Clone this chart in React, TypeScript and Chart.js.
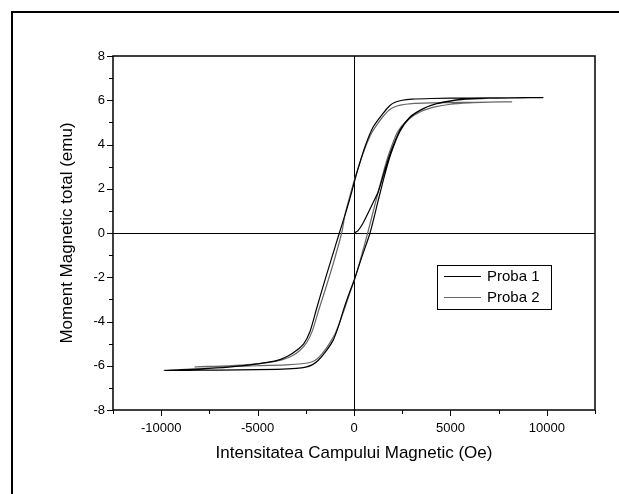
import React, { useEffect, useRef } from 'react';
import { Chart, registerables } from 'chart.js';

Chart.register(...registerables);

// ---- data ----
const seriesNames = ['Proba 1', 'Proba 2'];
const seriesColors = ['#000000', '#666666'];

const xTickValues = [-10000, -5000, 0, 5000, 10000];
const xMinorTickValues = [-12500, -7500, -2500, 2500, 7500, 12500];
const yTickValues = [-8, -6, -4, -2, 0, 2, 4, 6, 8];
const yMinorTickValues = [-7, -5, -3, -1, 1, 3, 5, 7];

const xTitle = 'Intensitatea Campului Magnetic (Oe)';
const yTitle = 'Moment Magnetic total (emu)';

// Proba 1: virgin curve -> upper branch -> descending branch -> ascending branch
const proba1Field = [
  0, 200, 450, 700, 950, 1250, 1600, 1900, 2386, 2905, 3595, 4289, 5000, 5670, 7000, 8500, 9800,
  8000, 6000, 4000, 3000, 2500, 2100, 1850, 1500, 1000, 570, 140, -120, -400, -760, -1200, -1600,
  -1935, -2282, -2600, -2972, -3400, -3838, -4500, -5394, -6500, -8000, -9850,
  -8000, -6000, -4000, -3000, -2500, -2150, -1850, -1500, -1072, -800, -554, -300, 0, 400, 830,
  1250, 1600, 1900, 2386, 2905, 3595, 4289, 5000, 5670, 7000, 8500, 9800,
];
const proba1Moment = [
  0, 0.1, 0.42, 0.85, 1.3, 1.85, 2.85, 3.65, 4.65, 5.25, 5.63, 5.85, 5.97, 6.05, 6.09, 6.11, 6.12,
  6.11, 6.1, 6.08, 6.05, 6.0, 5.9, 5.75, 5.4, 4.8, 3.9, 2.7, 1.85, 1.0, 0, -1.25, -2.4,
  -3.4, -4.45, -5.0, -5.3, -5.55, -5.72, -5.85, -5.96, -6.06, -6.14, -6.21,
  -6.2, -6.19, -6.16, -6.12, -6.06, -5.95, -5.75, -5.4, -4.83, -4.2, -3.5, -2.85, -2.15, -1.1, 0,
  1.45, 2.65, 3.55, 4.6, 5.22, 5.62, 5.84, 5.96, 6.04, 6.09, 6.11, 6.12,
];

// Proba 2: descending branch -> ascending branch
const proba2Field = [
  8200, 7000, 5500, 4000, 3000, 2400, 2000, 1750, 1400, 900, 470, 40, -220, -450, -640, -1050,
  -1450, -1800, -2150, -2450, -2800, -3200, -3700, -4400, -5300, -6500, -8250,
  -6500, -5000, -3500, -2700, -2200, -1900, -1650, -1350, -950, -500, -250, 50, 350, 710, 1120,
  1480, 1780, 2250, 2800, 3500, 4200, 5000, 6000, 7000, 8200,
];
const proba2Moment = [
  5.93, 5.92, 5.9, 5.88, 5.85, 5.78, 5.66, 5.5, 5.15, 4.5, 3.6, 2.45, 1.65, 0.9, 0, -1.3,
  -2.45, -3.4, -4.4, -4.95, -5.3, -5.55, -5.72, -5.85, -5.94, -6.0, -6.05,
  -6.03, -6.0, -5.96, -5.91, -5.83, -5.68, -5.45, -5.1, -4.5, -3.45, -2.8, -2.05, -1.15, 0, 1.4,
  2.6, 3.5, 4.55, 5.12, 5.5, 5.7, 5.82, 5.88, 5.91, 5.93,
];

const FONT = "'Liberation Sans', Arial, sans-serif";

const decorPlugin = {
  id: 'decor',
  beforeDatasetsDraw(chart: any) {
    const { ctx, chartArea: a, scales } = chart;
    const x0 = Math.round(scales.x.getPixelForValue(0)) + 0.5;
    const y0 = Math.round(scales.y.getPixelForValue(0)) + 0.5;
    ctx.save();
    ctx.strokeStyle = '#000';
    ctx.lineWidth = 1;
    ctx.beginPath();
    ctx.moveTo(a.left, y0);
    ctx.lineTo(a.right, y0);
    ctx.moveTo(x0, a.top);
    ctx.lineTo(x0, a.bottom);
    ctx.stroke();
    ctx.restore();
  },
  afterDraw(chart: any) {
    const { ctx, chartArea: a, scales, width, height } = chart;
    ctx.save();
    // outer page border (top & left)
    ctx.fillStyle = '#000';
    ctx.fillRect(11, 11, width - 11, 2);
    ctx.fillRect(11, 11, 2, height - 11);
    // plot frame
    ctx.strokeStyle = '#000';
    ctx.lineWidth = 1.5;
    ctx.strokeRect(a.left, a.top, a.right - a.left, a.bottom - a.top);
    // tick marks
    ctx.lineWidth = 1;
    ctx.beginPath();
    xTickValues.forEach((v) => {
      const px = Math.round(scales.x.getPixelForValue(v)) + 0.5;
      ctx.moveTo(px, a.bottom);
      ctx.lineTo(px, a.bottom + 6);
    });
    xMinorTickValues.forEach((v) => {
      const px = Math.round(scales.x.getPixelForValue(v)) + 0.5;
      ctx.moveTo(px, a.bottom);
      ctx.lineTo(px, a.bottom + 4);
    });
    yTickValues.forEach((v) => {
      const py = Math.round(scales.y.getPixelForValue(v)) + 0.5;
      ctx.moveTo(a.left, py);
      ctx.lineTo(a.left - 6, py);
    });
    yMinorTickValues.forEach((v) => {
      const py = Math.round(scales.y.getPixelForValue(v)) + 0.5;
      ctx.moveTo(a.left, py);
      ctx.lineTo(a.left - 4, py);
    });
    ctx.stroke();
    // legend
    const lx = 437.5, ly = 265.5, lw = 114, lh = 44;
    ctx.lineWidth = 1;
    ctx.strokeStyle = '#000';
    ctx.strokeRect(lx, ly, lw, lh);
    ctx.font = `15px ${FONT}`;
    ctx.textBaseline = 'middle';
    ctx.textAlign = 'left';
    seriesNames.forEach((name, i) => {
      const yy = 276.5 + i * 21;
      ctx.strokeStyle = seriesColors[i];
      ctx.beginPath();
      ctx.moveTo(444, yy);
      ctx.lineTo(481, yy);
      ctx.stroke();
      ctx.fillStyle = '#000';
      ctx.fillText(name, 487, yy);
    });
    ctx.restore();
  },
};

export default function App() {
  const ref = useRef<HTMLCanvasElement>(null);
  useEffect(() => {
    document.body.style.margin = '0';
    const canvas = ref.current!;
    const toPts = (xs: number[], ys: number[]) => xs.map((x, i) => ({ x, y: ys[i] }));
    const chart = new Chart(canvas, {
      type: 'scatter',
      data: {
        datasets: [
          {
            label: seriesNames[0],
            data: toPts(proba1Field, proba1Moment),
            showLine: true,
            borderColor: seriesColors[0],
            borderWidth: 1.2,
            pointRadius: 0,
            tension: 0.25,
          },
          {
            label: seriesNames[1],
            data: toPts(proba2Field, proba2Moment),
            showLine: true,
            borderColor: seriesColors[1],
            borderWidth: 1.2,
            pointRadius: 0,
            tension: 0.25,
          },
        ],
      },
      options: {
        animation: false,
        responsive: true,
        maintainAspectRatio: false,
        layout: { padding: { top: 56, right: 24, left: 0, bottom: 0 } },
        plugins: { legend: { display: false }, tooltip: { enabled: false } },
        scales: {
          x: {
            type: 'linear',
            min: -12500,
            max: 12500,
            afterBuildTicks: (s: any) => {
              s.ticks = xTickValues.map((v) => ({ value: v }));
            },
            afterFit: (s: any) => {
              s.height = 84;
            },
            grid: { display: false, drawTicks: false },
            border: { display: false },
            ticks: {
              color: '#000',
              font: { family: FONT, size: 13 },
              padding: 11,
              maxRotation: 0,
              autoSkip: false,
              callback: (v: any) => String(v),
            },
            title: {
              display: true,
              text: xTitle,
              color: '#000',
              font: { family: FONT, size: 17 },
              padding: { top: 0, bottom: 30 },
            },
          },
          y: {
            type: 'linear',
            min: -8,
            max: 8,
            afterBuildTicks: (s: any) => {
              s.ticks = yTickValues.map((v) => ({ value: v }));
            },
            afterFit: (s: any) => {
              s.width = 113;
            },
            grid: { display: false, drawTicks: false },
            border: { display: false },
            ticks: {
              color: '#000',
              font: { family: FONT, size: 13 },
              padding: 8,
              autoSkip: false,
              callback: (v: any) => String(v),
            },
            title: {
              display: true,
              text: yTitle,
              color: '#000',
              font: { family: FONT, size: 17 },
              padding: { top: 57, bottom: 0 },
            },
          },
        },
      },
      plugins: [decorPlugin],
    } as any);
    return () => chart.destroy();
  }, []);
  return (
    <div style={{ position: 'relative', width: 619, height: 494 }}>
      <canvas ref={ref} />
    </div>
  );
}
